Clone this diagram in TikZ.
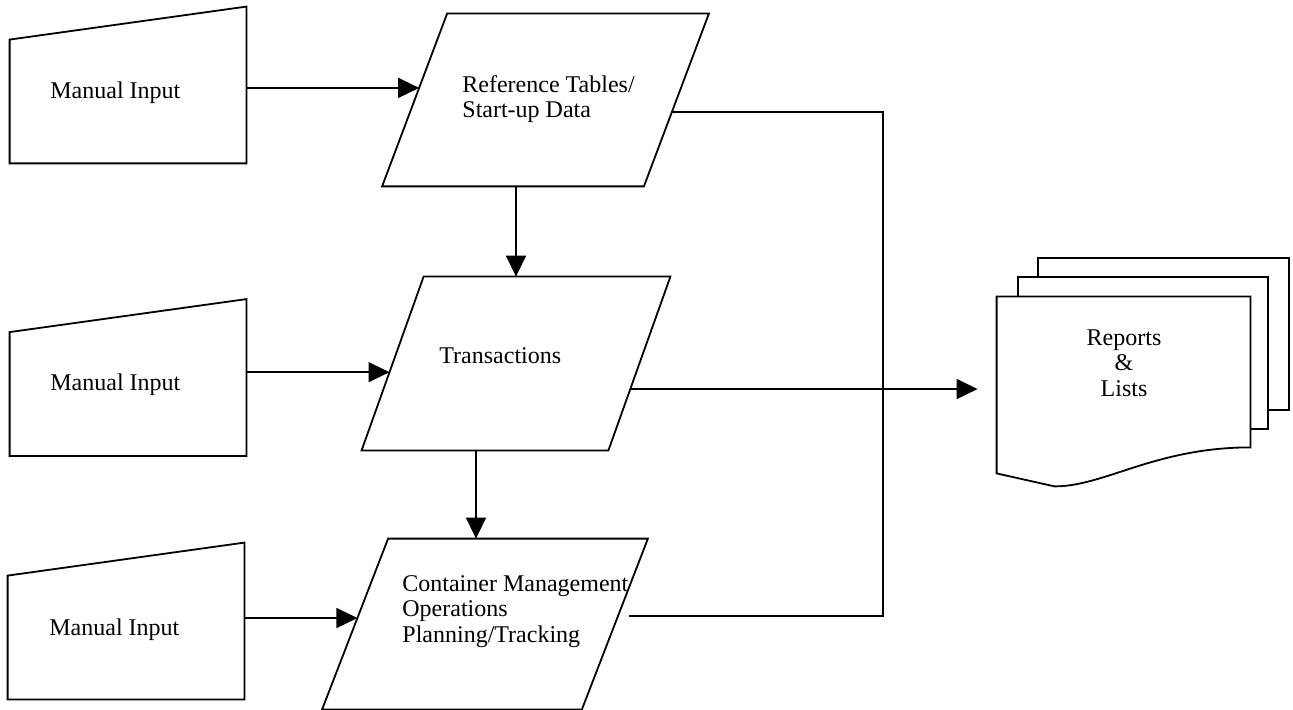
\documentclass[tikz,border=0pt]{standalone}
\usepackage{fontspec}
\setmainfont{Liberation Serif}
\usetikzlibrary{arrows.meta,calc}
\begin{document}
\begin{tikzpicture}[x=0.5pt,y=-0.5pt,
  outline/.style={line width=0.9pt, line join=miter},
  flow/.style={line width=0.8pt},
  arr/.style={flow, -{Triangle[length=10.5pt,width=10pt]}},
  body/.style={rectangle, inner sep=0pt},
  manual/.style={body, minimum width=118pt, minimum height=78pt},
  txt/.style={inner sep=0pt, font=\fontsize{12}{12.8}\selectfont, align=left},
  page/.style={rectangle, draw, fill=white, outline, minimum width=125.5pt,
    minimum height=76pt, inner sep=0pt}
]
\useasboundingbox (0,0) rectangle (1293,710);

% manual input blocks (sloped top edge)
\node[manual] (mi1) at (128,85) {};
\node[manual] (mi2) at (128,377.5) {};
\node[manual] (mi3) at (126,621) {};
\foreach \n in {mi1,mi2,mi3}
  \draw[outline] (\n.south west) -- (\n.south east) -- (\n.north east)
    -- ([yshift=-16.5pt]\n.north west) -- cycle;

% data blocks: a rectangular body, drawn as a parallelogram leaning right
\node[body, minimum width=130.5pt, minimum height=86pt] (ref) at (545.5,100) {};
\node[body, minimum width=123pt, minimum height=86.5pt] (trans) at (516,363.5) {};
\node[body, minimum width=129.5pt, minimum height=85pt] (cont) at (485,624) {};
\foreach \n/\s in {ref/16.25pt, trans/15.5pt, cont/16.5pt} {
  \coordinate (\n-bl) at ([xshift=-\s]\n.south west);
  \coordinate (\n-br) at ([xshift=-\s]\n.south east);
  \coordinate (\n-tr) at ([xshift=\s]\n.north east);
  \coordinate (\n-tl) at ([xshift=\s]\n.north west);
  \draw[outline] (\n-bl) -- (\n-br) -- (\n-tr) -- (\n-tl) -- cycle;
}

% texts
\node[txt, anchor=base west] (mi1-t) at (50,99) {Manual Input};
\node[txt, anchor=base west] (mi2-t) at (50,391) {Manual Input};
\node[txt, anchor=base west] (mi3-t) at (49,635) {Manual Input};
\node[txt, anchor=west] (ref-t) at (462,99) {Reference Tables/\\Start-up Data};
\node[txt, anchor=base west] (trans-t) at (439,364) {Transactions};
\node[txt, anchor=west] (cont-t) at (402,611.5) {Container Management\\Operations\\Planning/Tracking};

% stacked report pages
\node[page] (doc3) at (1163.5,334) {};
\node[page, minimum width=125pt] (doc2) at (1143,353) {};
\node[body, minimum width=126.5pt, minimum height=75pt] (rep) at (1123.5,372) {};
\draw[outline, fill=white] (rep.north west) -- (rep.north east) -- (rep.south east)
  .. controls +(-95,0) and +(50,0) .. ($(rep.south west)+(58,39)$)
  -- ($(rep.south west)+(0,26)$) -- cycle;
\node[txt, align=center] (rep-t) at (1124,363) {Reports\\\&\\Lists};

% inputs into the data blocks
\coordinate (a1) at ($(ref-bl)!0.57!(ref-tl)$);
\coordinate (a2) at ($(trans-bl)!0.45!(trans-tl)$);
\coordinate (a3) at ($(cont-bl)!0.535!(cont-tl)$);
\draw[arr] (a1 -| mi1.east) -- (a1);
\draw[arr] (a2 -| mi2.east) -- (a2);
\draw[arr] (a3 -| mi3.east) -- (a3);

% vertical flow
\draw[arr] (ref.south -| trans.north) -- (trans.north);
\coordinate (d2) at ([xshift=-4.5pt]cont.north);
\draw[arr] (trans.south -| d2) -- (d2);

% outputs to reports
\coordinate (r1) at ($(ref-br)!0.43!(ref-tr)$);
\coordinate (r2) at ($(trans-br)!0.353!(trans-tr)$);
\coordinate (r3) at ($(cont-br)!0.547!(cont-tr)$);
\coordinate (bus) at (883,0);
\draw[flow] (r1) -| (bus |- r3) -- ([xshift=5.5pt]r3);
\draw[arr, shorten >=9.5pt] (r2) -- (r2 -| rep.west);
\end{tikzpicture}
\end{document}
